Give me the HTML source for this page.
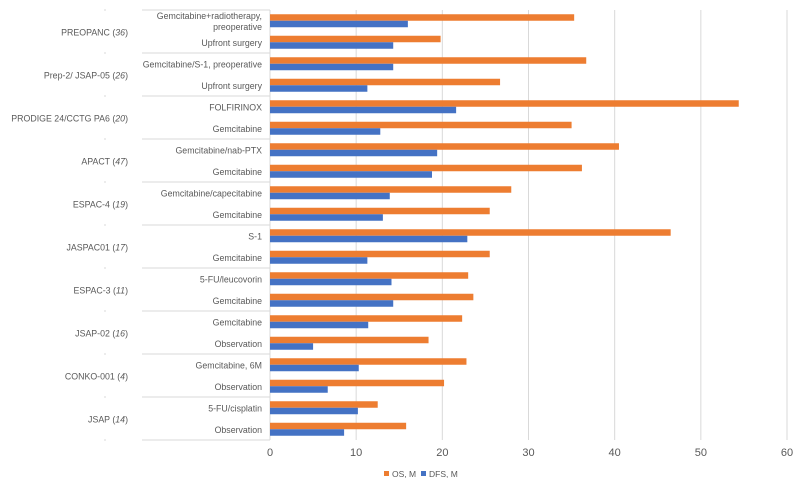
<!DOCTYPE html>
<html><head><meta charset="utf-8"><style>
body{margin:0;background:#fff;}
svg text{font-family:"Liberation Sans",sans-serif;fill:#595959;}
</style></head><body>
<svg id="chart" width="800" height="486" xmlns="http://www.w3.org/2000/svg"></svg>
<script>
const groups=["PREOPANC","Prep-2/ JSAP-05","PRODIGE 24/CCTG PA6","APACT","ESPAC-4","JASPAC01","ESPAC-3","JSAP-02","CONKO-001","JSAP"];
const refs=["36","26","20","47","19","17","11","16","4","14"];
const arms=[["Gemcitabine+radiotherapy,","preoperative"],["Upfront surgery"],["Gemcitabine/S-1, preoperative"],["Upfront surgery"],["FOLFIRINOX"],["Gemcitabine"],["Gemcitabine/nab-PTX"],["Gemcitabine"],["Gemcitabine/capecitabine"],["Gemcitabine"],["S-1"],["Gemcitabine"],["5-FU/leucovorin"],["Gemcitabine"],["Gemcitabine"],["Observation"],["Gemcitabine, 6M"],["Observation"],["5-FU/cisplatin"],["Observation"]];
const osVals=[35.3,19.8,36.7,26.7,54.4,35.0,40.5,36.2,28.0,25.5,46.5,25.5,23.0,23.6,22.3,18.4,22.8,20.2,12.5,15.8];
const dfsVals=[16.0,14.3,14.3,11.3,21.6,12.8,19.4,18.8,13.9,13.1,22.9,11.3,14.1,14.3,11.4,5.0,10.3,6.7,10.2,8.6];
const xTicks=[0,10,20,30,40,50,60];
const svg=document.getElementById('chart');const NS="http://www.w3.org/2000/svg";
function mk(t,a,p){const e=document.createElementNS(NS,t);for(const k in a)e.setAttribute(k,a[k]);(p||svg).appendChild(e);return e;}
const x0=270,x1=787,yTop=10,yBot=440,xMax=60;
const xs=v=>x0+v/xMax*(x1-x0);
const rowH=(yBot-yTop)/arms.length;
const ys=i=>yTop+i*rowH;
xTicks.forEach(t=>{
 const g=mk('line',{x1:xs(t),x2:xs(t),y1:yTop,y2:yBot,stroke:'#d9d9d9','stroke-width':1});
 
 const tx=mk('text',{x:xs(t),y:456,'text-anchor':'middle','font-size':11});tx.textContent=t;
 
});
for(let g=0;g<=groups.length;g++){
 const y=ys(g*2);
 const l=mk('line',{x1:142,x2:x0,y1:y,y2:y,stroke:'#d9d9d9','stroke-width':1});
 
 mk('line',{x1:104,x2:106,y1:y,y2:y,stroke:'#d9d9d9'});
}
groups.forEach((n,g)=>{
 const t=mk('text',{x:128,y:ys(g*2)+rowH+4,'text-anchor':'end','font-size':8.8});
 
 t.appendChild(document.createTextNode(n+' ('));
 const it=mk('tspan',{'font-style':'italic'},t);it.textContent=refs[g];
 t.appendChild(document.createTextNode(')'));
});
arms.forEach((a,i)=>{
 const c=ys(i)+rowH/2;
 a.forEach((line,k)=>{
  const t=mk('text',{x:262,y:c+3.5+(k-(a.length-1)/2)*11,'text-anchor':'end','font-size':8.8});t.textContent=line;
  
 });
 const o=mk('rect',{x:x0,y:c-6.5,width:xs(osVals[i])-x0,height:6.5,fill:'#ed7d31'});
 
 const d=mk('rect',{x:x0,y:c,width:xs(dfsVals[i])-x0,height:6.5,fill:'#4472c4'});
 
});
const lg=mk('g',{});
mk('rect',{x:384,y:471,width:5,height:5,fill:'#ed7d31'},lg);
let t1=mk('text',{x:392,y:477,'font-size':8.5},lg);t1.textContent='OS, M';
mk('rect',{x:421,y:471,width:5,height:5,fill:'#4472c4'},lg);
let t2=mk('text',{x:429,y:477,'font-size':8.5},lg);t2.textContent='DFS, M';
</script>
</body></html>
